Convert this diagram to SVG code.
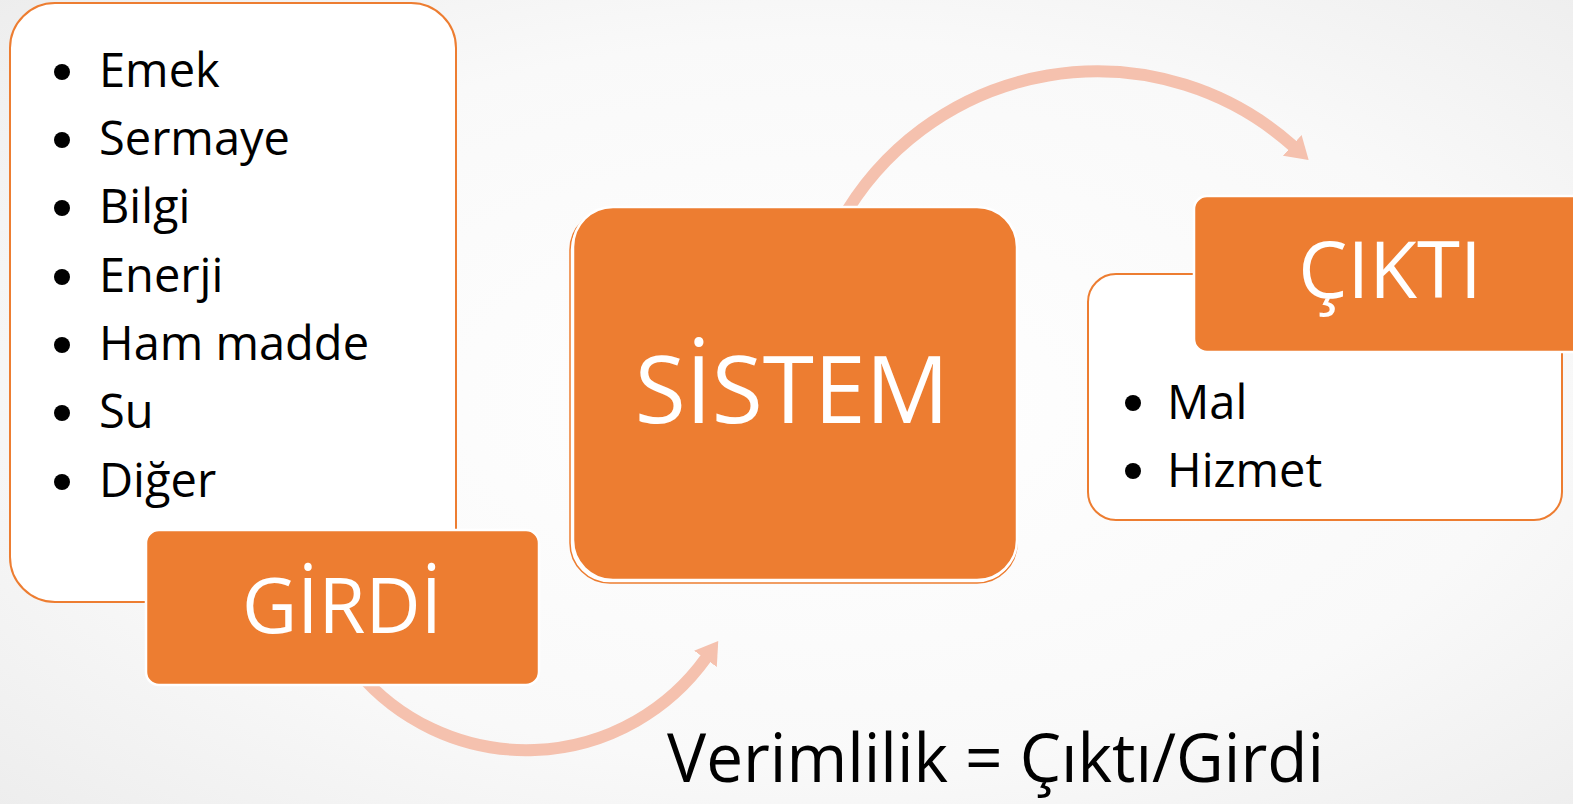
<svg xmlns="http://www.w3.org/2000/svg" width="1573" height="804" viewBox="0 0 1573 804">
  <defs>
    <radialGradient id="bg" cx="0.52" cy="0.5" r="0.75">
      <stop offset="0" stop-color="#ffffff"/>
      <stop offset="0.6" stop-color="#f9f9f9"/>
      <stop offset="1" stop-color="#ececec"/>
    </radialGradient>
    <marker id="head" markerUnits="userSpaceOnUse" markerWidth="30" markerHeight="32" refX="1" refY="15" orient="auto">
      <polygon points="0,1 22,15 0,29" fill="#F5C1AE"/>
    </marker>
    <style>
      .list { font-family: "Open Sans", "Noto Sans", sans-serif; font-size: 47px; fill: #000; }
      .title { font-family: "Open Sans", "Noto Sans", sans-serif; fill: #fff; text-anchor: middle; }
      .panel { fill: #fff; stroke: #ED7D31; stroke-width: 2; }
      .tab { fill: #ED7D31; stroke: #fff; stroke-width: 2.5; }
      .flow { fill: none; stroke: #F5C1AE; stroke-width: 12; marker-end: url(#head); }
      .dot { fill: #000; }
    </style>
  </defs>

  <rect width="1573" height="804" fill="url(#bg)"/>

  <!-- curved flow arrows, drawn under the boxes -->
  <g id="connectors">
    <path class="flow" d="M357,671 A221,221 0 0 0 706,658"/>
    <path class="flow" d="M840,223 A294,294 0 0 1 1293,146"/>
  </g>

  <!-- inputs list with its label tab -->
  <g id="girdi">
    <rect class="panel" x="10" y="3" width="446" height="599" rx="45"/>
    <g class="dots">
      <circle class="dot" cx="62" cy="72" r="8"/>
      <circle class="dot" cx="62" cy="140" r="8"/>
      <circle class="dot" cx="62" cy="208" r="8"/>
      <circle class="dot" cx="62" cy="277" r="8"/>
      <circle class="dot" cx="62" cy="345" r="8"/>
      <circle class="dot" cx="62" cy="413" r="8"/>
      <circle class="dot" cx="62" cy="482" r="8"/>
    </g>
    <text class="list" x="99" y="87">Emek</text>
    <text class="list" x="99" y="155">Sermaye</text>
    <text class="list" x="99" y="223">Bilgi</text>
    <text class="list" x="99" y="292">Enerji</text>
    <text class="list" x="99" y="360">Ham madde</text>
    <text class="list" x="99" y="428">Su</text>
    <text class="list" x="99" y="497">Diğer</text>
    <rect class="tab" x="146" y="530" width="393" height="155" rx="13"/>
    <text class="title" x="342" y="633" font-size="76">GİRDİ</text>
  </g>

  <!-- central process box -->
  <g id="sistem">
    <rect x="570" y="210" width="447" height="373" rx="40" fill="#fff" stroke="#ED7D31" stroke-width="1.5"/>
    <rect class="tab" x="573" y="207" width="444" height="373" rx="40"/>
    <text class="title" x="792" y="423" font-size="93">SİSTEM</text>
  </g>

  <!-- outputs list with its label tab -->
  <g id="cikti">
    <rect class="panel" x="1088" y="274" width="474" height="246" rx="28"/>
    <circle class="dot" cx="1133" cy="403" r="8"/>
    <circle class="dot" cx="1133" cy="471" r="8"/>
    <text class="list" x="1167" y="419">Mal</text>
    <text class="list" x="1167" y="487">Hizmet</text>
    <rect class="tab" x="1194" y="196" width="400" height="156" rx="13"/>
    <text class="title" x="1390" y="298" font-size="78">ÇIKTI</text>
  </g>

  <!-- formula -->
  <g id="formula">
    <text x="667" y="782" font-family="'Open Sans', 'Noto Sans', sans-serif" font-size="68" fill="#000" textLength="657" lengthAdjust="spacingAndGlyphs">Verimlilik = Çıktı/Girdi</text>
  </g>
</svg>
